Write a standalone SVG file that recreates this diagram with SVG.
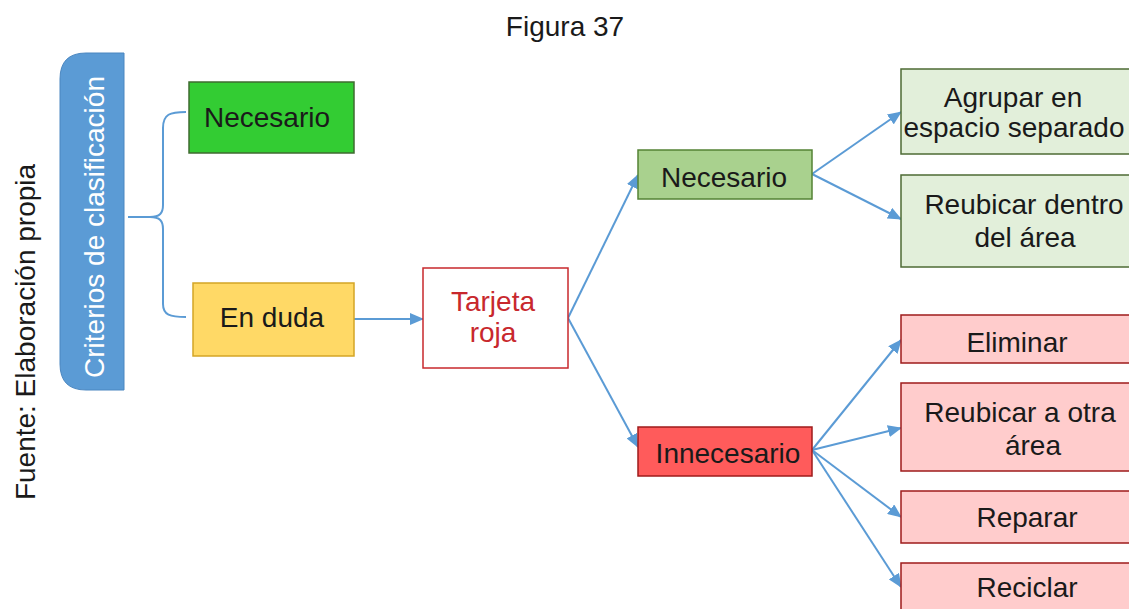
<svg xmlns="http://www.w3.org/2000/svg" width="1129" height="609" viewBox="0 0 1129 609">
  <style>
    text { font-family: "Liberation Sans", Arial, sans-serif; font-size: 28px; fill: #1a1a1a; text-anchor: middle; }
    .box { stroke-width: 1.5; }
    .conn { stroke: #5B9BD5; stroke-width: 2; fill: none; }
    .arrow { marker-end: url(#head); }
    .green { fill: #33CC33; stroke: #3F6B30; }
    .yellow { fill: #FFD966; stroke: #D4A526; }
    .card { fill: #FFFFFF; stroke: #C8282D; }
    .lgreen { fill: #A9D18E; stroke: #548235; }
    .red { fill: #FF5B5B; stroke: #9E1B1B; }
    .pale { fill: #E2EFDA; stroke: #4E6B35; }
    .pink { fill: #FFCCCC; stroke: #9E1B1B; }
  </style>
  <defs>
    <marker id="head" viewBox="0 0 14 12" refX="13" refY="6" markerWidth="14" markerHeight="12" markerUnits="userSpaceOnUse" orient="auto">
      <path d="M0,0 L14,6 L0,12 Z" fill="#5B9BD5"/>
    </marker>
  </defs>

  <rect width="1129" height="609" fill="#FFFFFF"/>

  <text x="565" y="36" font-size="29">Figura 37</text>
  <text transform="translate(35,332) rotate(-90)" font-size="29.5">Fuente: Elaboración propia</text>

  <g id="criterios">
    <path d="M124,53 L124,390 L86,390 Q60,390 60,364 L60,79 Q60,53 86,53 Z" fill="#5B9BD5" stroke="#4A86C0" stroke-width="1"/>
    <text transform="translate(104,227) rotate(-90)" font-size="28.5" style="fill:#FFFFFF">Criterios de clasificación</text>
  </g>

  <g id="connectors">
    <path class="conn" d="M186,112 C170,112 163,114 163,128 L163,205 C163,213 160,217 150,217 L128,217 M150,217 C160,217 163,221 163,229 L163,304 C163,315 170,317 186,317" stroke-width="2.5"/>
    <line class="conn arrow" x1="354" y1="319" x2="423" y2="319"/>
    <line class="conn arrow" x1="568" y1="318" x2="638" y2="175"/>
    <line class="conn arrow" x1="568" y1="318" x2="638" y2="447"/>
    <line class="conn arrow" x1="812" y1="174" x2="901" y2="112"/>
    <line class="conn arrow" x1="812" y1="174" x2="901" y2="219"/>
    <line class="conn arrow" x1="812" y1="450" x2="901" y2="340"/>
    <line class="conn arrow" x1="812" y1="450" x2="901" y2="428"/>
    <line class="conn arrow" x1="812" y1="450" x2="901" y2="517"/>
    <line class="conn arrow" x1="812" y1="450" x2="901" y2="587"/>
  </g>

  <g id="necesario-1">
    <rect class="box green" x="189" y="82" width="165" height="71"/>
    <text x="267" y="127">Necesario</text>
  </g>

  <g id="en-duda">
    <rect class="box yellow" x="193" y="283" width="161" height="73"/>
    <text x="272" y="327">En duda</text>
  </g>

  <g id="tarjeta-roja">
    <rect class="box card" x="423" y="268" width="145" height="100"/>
    <text x="493" y="311" style="fill:#C8282D">Tarjeta</text>
    <text x="493" y="342" style="fill:#C8282D">roja</text>
  </g>

  <g id="necesario-2">
    <rect class="box lgreen" x="638" y="150" width="174" height="49"/>
    <text x="724" y="187">Necesario</text>
  </g>

  <g id="innecesario">
    <rect class="box red" x="638" y="427" width="174" height="49"/>
    <text x="728" y="463">Innecesario</text>
  </g>

  <g id="agrupar">
    <rect class="box pale" x="901" y="69" width="240" height="85"/>
    <text x="1013" y="107">Agrupar en</text>
    <text x="1014" y="137">espacio separado</text>
  </g>

  <g id="reubicar-dentro">
    <rect class="box pale" x="901" y="175" width="240" height="92"/>
    <text x="1024" y="214">Reubicar dentro</text>
    <text x="1025" y="247">del área</text>
  </g>

  <g id="eliminar">
    <rect class="box pink" x="901" y="315" width="240" height="48"/>
    <text x="1017" y="352">Eliminar</text>
  </g>

  <g id="reubicar-otra">
    <rect class="box pink" x="901" y="383" width="240" height="88"/>
    <text x="1020" y="422">Reubicar a otra</text>
    <text x="1033" y="455">área</text>
  </g>

  <g id="reparar">
    <rect class="box pink" x="901" y="491" width="240" height="52"/>
    <text x="1027" y="527">Reparar</text>
  </g>

  <g id="reciclar">
    <rect class="box pink" x="901" y="563" width="240" height="60"/>
    <text x="1027" y="597">Reciclar</text>
  </g>
</svg>
